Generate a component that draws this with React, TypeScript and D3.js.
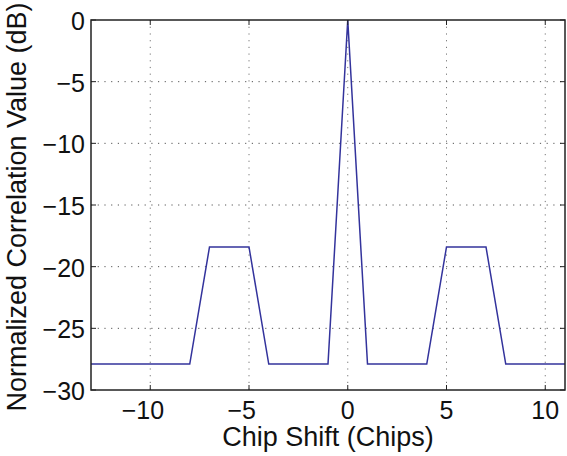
import React, { useEffect, useRef } from 'react';
import * as d3 from 'd3';

const chipShifts = [-13, -12, -11, -10, -9, -8, -7, -6, -5, -4, -3, -2, -1, 0, 1, 2, 3, 4, 5, 6, 7, 8, 9, 10, 11];
const correlationDb = [
  -27.9, -27.9, -27.9, -27.9, -27.9, -27.9, -18.4, -18.4, -18.4, -27.9, -27.9, -27.9, -27.9, 0,
  -27.9, -27.9, -27.9, -27.9, -18.4, -18.4, -18.4, -27.9, -27.9, -27.9, -27.9,
];
const xTicks = [-10, -5, 0, 5, 10];
const yTicks = [0, -5, -10, -15, -20, -25, -30];

export default function App() {
  const svgRef = useRef<SVGSVGElement>(null);

  useEffect(() => {
    const W = 567;
    const H = 456;
    const margin = { top: 20, right: 2, bottom: 66, left: 91 };
    const width = W - margin.left - margin.right;
    const height = H - margin.top - margin.bottom;

    const root = d3.select(svgRef.current).attr('width', W).attr('height', H);
    root.selectAll('*').remove();
    const svg = root.append('g').attr('transform', `translate(${margin.left},${margin.top})`);

    const x = d3.scaleLinear().domain([-13, 11]).range([0, width]);
    const y = d3.scaleLinear().domain([-30, 0]).range([height, 0]);

    const font = 'Liberation Sans, Arial, Helvetica, sans-serif';
    const tickSize = '25px';
    const labelSize = '27px';

    // grid
    svg
      .selectAll('.vgrid')
      .data(xTicks)
      .enter()
      .append('line')
      .attr('x1', (d) => x(d))
      .attr('x2', (d) => x(d))
      .attr('y1', 0)
      .attr('y2', height)
      .style('stroke', '#777')
      .style('stroke-width', 1)
      .style('stroke-dasharray', '1.2,5.5');
    svg
      .selectAll('.hgrid')
      .data(yTicks.filter((d) => d !== 0 && d !== -30))
      .enter()
      .append('line')
      .attr('x1', 0)
      .attr('x2', width)
      .attr('y1', (d) => y(d))
      .attr('y2', (d) => y(d))
      .style('stroke', '#555')
      .style('stroke-width', 1)
      .style('stroke-dasharray', '1.2,5.5');

    // data line
    const line = d3
      .line<number>()
      .x((_, i) => x(chipShifts[i]))
      .y((d) => y(d));
    svg
      .append('path')
      .datum(correlationDb)
      .attr('d', line)
      .style('fill', 'none')
      .style('stroke', '#33339c')
      .style('stroke-width', 1.5);

    // box
    svg
      .append('rect')
      .attr('x', 0)
      .attr('y', 0)
      .attr('width', width)
      .attr('height', height)
      .style('fill', 'none')
      .style('stroke', '#222')
      .style('stroke-width', 1.5);

    // ticks (inward)
    xTicks.forEach((t) => {
      svg.append('line').attr('x1', x(t)).attr('x2', x(t)).attr('y1', height).attr('y2', height - 5).style('stroke', '#222');
      svg.append('line').attr('x1', x(t)).attr('x2', x(t)).attr('y1', 0).attr('y2', 5).style('stroke', '#222');
    });
    yTicks.forEach((t) => {
      svg.append('line').attr('x1', 0).attr('x2', 5).attr('y1', y(t)).attr('y2', y(t)).style('stroke', '#222');
      svg.append('line').attr('x1', width).attr('x2', width - 5).attr('y1', y(t)).attr('y2', y(t)).style('stroke', '#222');
    });

    // x tick labels: digits centred on the tick, minus hanging to the left
    xTicks.forEach((t) => {
      const digits = svg
        .append('text')
        .attr('x', x(t))
        .attr('y', height + 29)
        .attr('text-anchor', 'middle')
        .style('font-family', font)
        .style('font-size', tickSize)
        .style('fill', '#111')
        .text(`${Math.abs(t)}`);
      if (t < 0) {
        const w = (digits.node() as SVGTextElement).getComputedTextLength();
        svg
          .append('text')
          .attr('x', x(t) - w / 2)
          .attr('y', height + 29)
          .attr('text-anchor', 'end')
          .style('font-family', font)
          .style('font-size', tickSize)
          .style('fill', '#111')
          .text('\u2212');
      }
    });

    const fmt = (v: number) => (v < 0 ? `\u2212${Math.abs(v)}` : `${v}`);

    svg
      .selectAll('.ylab')
      .data(yTicks)
      .enter()
      .append('text')
      .attr('x', -6)
      .attr('y', (d) => y(d) + 10)
      .attr('text-anchor', 'end')
      .style('font-family', font)
      .style('font-size', tickSize)
      .style('fill', '#111')
      .text((d) => fmt(d));

    svg
      .append('text')
      .attr('x', width / 2)
      .attr('y', height + 56)
      .attr('text-anchor', 'middle')
      .style('font-family', font)
      .style('font-size', labelSize)
      .style('fill', '#111')
      .text('Chip Shift (Chips)');

    svg
      .append('text')
      .attr('transform', `translate(${-margin.left + 26},${height / 2 + 2}) rotate(-90)`)
      .attr('text-anchor', 'middle')
      .style('font-family', font)
      .style('font-size', labelSize)
      .style('fill', '#111')
      .text('Normalized Correlation Value (dB)');
  }, []);

  return (
    <div style={{ position: 'absolute', left: 0, top: 0 }}>
      <svg ref={svgRef} style={{ display: 'block', background: '#fff' }}></svg>
    </div>
  );
}
